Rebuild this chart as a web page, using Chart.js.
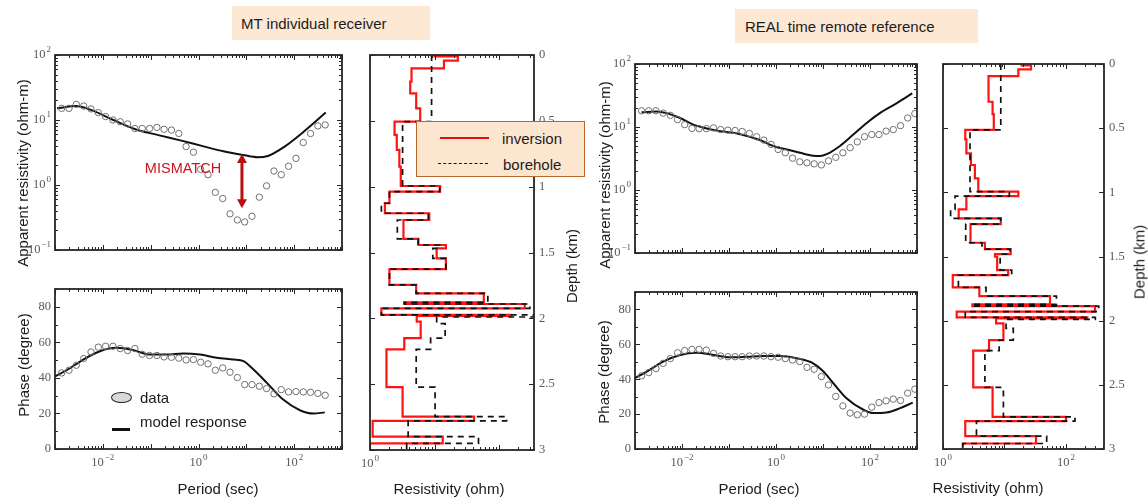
<!DOCTYPE html>
<html>
<head>
<meta charset="utf-8">
<script src="https://cdn.jsdelivr.net/npm/chart.js@4.4.1/dist/chart.umd.min.js"></script>
<style>
  body { margin: 0; background: #fff; width: 1148px; height: 497px; overflow: hidden; position: relative;
         font-family: "Liberation Sans", Arial, sans-serif; color: #1c1c1c; }
  canvas { position: absolute; left: 0; top: 0; z-index: 0; }
  .t { position: absolute; white-space: nowrap; font-size: 15px; line-height: 1; z-index: 2; }
  .c { transform: translate(-50%, -50%); }
  .r { transform: translate(-50%, -50%) rotate(-90deg); }
  .box { position: absolute; background: #fde8d4; z-index: 2; }
</style>
</head>
<body>
<script>
const W = 1148, H = 497;

// ---- period axis (sec), shared by both stations
const periods = [0.00138, 0.00196, 0.00279, 0.00397, 0.00565, 0.00804, 0.0114, 0.0163, 0.0231, 0.0329,
  0.0468, 0.0665, 0.0946, 0.135, 0.191, 0.272, 0.387, 0.551, 0.783, 1.11,
  1.58, 2.25, 3.21, 4.56, 6.49, 9.23, 13.1, 18.7, 26.5, 37.8,
  53.7, 76.4, 109, 155, 220, 313, 445, 633, 900];

// ---- MT individual receiver
const rhoDataMT = [15.1, 15.1, 17.4, 16.4, 14.8, 13.0, 11.3, 10.0, 9.4, 8.7,
  7.4, 7.4, 7.4, 7.7, 7.2, 7.0, 6.2, 3.9, 3.2, 1.74,
  1.44, 0.77, 0.62, 0.36, 0.29, 0.27, 0.33, 0.65, 0.97, 1.64,
  1.44, 1.94, 2.57, 4.5, 6.2, 8.1, 8.4];
const phaseDataMT = [42.8, 44.3, 47.1, 50.9, 54.6, 57.3, 57.8, 57.8, 56.5, 55.4,
  56.5, 53.3, 52.6, 52.6, 51.8, 51.6, 51.1, 50.1, 50.3, 48.8,
  47.9, 44.3, 45.6, 43.2, 40.2, 36.2, 36.2, 35.3, 34.0, 31.0,
  33.4, 32.1, 32.3, 32.1, 31.9, 31.3, 30.2];
const rhoModelPeriodsMT = [0.0011, 0.00275, 0.00562, 0.0166, 0.0479, 0.138, 0.398, 1.17, 3.31, 8.51, 17.4, 28.2, 63.1, 158, 457];
const rhoModelMT = [15.1, 16.4, 14.3, 10.0, 7.2, 5.9, 4.9, 4.0, 3.3, 2.9, 2.67, 2.8, 3.9, 6.6, 13.0];
const phaseModelPeriodsMT = [0.001, 0.00175, 0.00389, 0.00871, 0.0195, 0.0437, 0.0977, 0.219, 0.479, 1.07,
  2.40, 5.37, 8.71, 14.1, 26.9, 58.9, 132, 251, 437];
const phaseModelMT = [40.9, 44.3, 50.3, 55.0, 56.9, 55.6, 53.1, 53.1, 53.7, 53.1,
  51.3, 50.3, 49.4, 44.7, 37.2, 27.8, 21.8, 19.9, 20.6];

// ---- REAL time remote reference
const rhoDataRR = [18.1, 18.1, 18.1, 16.6, 15.3, 13.1, 10.9, 9.5, 9.4, 9.4,
  9.7, 9.1, 8.9, 8.8, 8.5, 7.9, 7.0, 6.2, 5.3, 4.4,
  3.9, 3.2, 2.8, 2.7, 2.6, 2.5, 2.9, 3.3, 3.9, 4.7,
  5.8, 7.0, 7.6, 7.6, 8.6, 9.1, 10.5, 13.9, 16.3];
const phaseDataRR = [41.9, 43.8, 46.1, 49.1, 51.8, 55.2, 56.4, 57.1, 57.1, 56.7,
  54.8, 53.3, 52.9, 52.9, 52.9, 53.3, 53.3, 53.3, 52.9, 52.6,
  51.8, 51.0, 50.1, 46.8, 45.7, 41.5, 36.7, 30.1, 24.7, 20.6,
  19.6, 20.0, 24.0, 26.6, 27.6, 28.6, 27.8, 32.0, 34.3];
const rhoModelPeriodsRR = [0.00138, 0.00288, 0.00468, 0.00912, 0.0174, 0.0335, 0.0646, 0.123, 0.240, 0.457,
  0.871, 1.70, 3.24, 6.17, 8.71, 12.0, 22.9, 44.2, 85.1, 162, 372, 794];
const rhoModelRR = [17.1, 17.6, 16.6, 13.9, 10.9, 9.5, 8.6, 8.1, 7.2, 6.2,
  5.0, 4.4, 3.9, 3.5, 3.45, 3.7, 5.0, 7.6, 11.6, 16.6, 23.9, 34.2];
const phaseModelPeriodsRR = [0.001, 0.00178, 0.00398, 0.00912, 0.0204, 0.0468, 0.105, 0.240, 0.537, 1.22,
  2.75, 6.17, 10.2, 16.6, 31.6, 72.4, 117, 226, 437, 813];
const phaseModelRR = [40.6, 44.4, 50.1, 53.9, 55.2, 53.9, 52.6, 52.9, 53.3, 53.3,
  52.0, 49.1, 44.4, 37.7, 29.1, 22.5, 20.6, 20.9, 23.4, 26.6];

// ---- resistivity profiles: layer boundaries (km) and layer resistivity (ohm)
const invDepthMT = [0, 0.01, 0.043, 0.101, 0.2025, 0.291, 0.405, 0.506, 0.607, 0.721, 0.848, 0.995, 1.038,
  1.126, 1.202, 1.253, 1.397, 1.443, 1.468, 1.544, 1.627, 1.746, 1.81, 1.878, 1.891, 1.924, 1.974,
  1.982, 2.025, 2.151, 2.235, 2.523, 2.746, 2.779, 2.898, 2.949, 3.0];
const invResMT = [10, 23, 14, 4.4, 4.2, 5.2, 6.0, 2.4, 2.6, 2.85, 3.0, 12.2, 2.0, 1.7, 8.3, 3.3, 5.6, 15,
  10.8, 15, 2.0, 5.2, 58, 3.4, 250, 1.5, 152, 5.3, 6.1, 3.4, 1.8, 3.2, 41, 1.1, 13.4, 1.0];
const boreDepthMT = [0, 0.506, 0.995, 1.038, 1.126, 1.202, 1.253, 1.397, 1.443, 1.468, 1.544, 1.627, 1.746,
  1.81, 1.878, 1.891, 1.924, 1.974, 1.99, 2.04, 2.151, 2.235, 2.523, 2.746, 2.779, 2.898, 2.949, 3.0];
const boreResMT = [9.0, 3.2, 12, 2.0, 1.5, 8.0, 2.65, 5.6, 12, 9.4, 15, 2.0, 5.2, 67, 3.4, 300, 1.5, 340,
  10.8, 14.6, 8.7, 5.2, 10.2, 131, 3.9, 48, 3.7];

const invDepthRR = [0, 0.01, 0.042, 0.094, 0.294, 0.39, 0.514, 0.587, 0.696, 0.787, 0.891, 0.995, 1.029,
  1.133, 1.203, 1.247, 1.393, 1.442, 1.481, 1.502, 1.606, 1.645, 1.741, 1.808, 1.873, 1.886, 1.93,
  1.975, 1.982, 2.021, 2.151, 2.234, 2.52, 2.749, 2.783, 2.9, 2.957, 3.0];
const invResRR = [19, 27, 16.8, 5.5, 6.4, 6.7, 2.3, 2.4, 2.85, 3.3, 3.75, 16.8, 2.4, 1.8, 8.7, 2.8, 4.8,
  12.6, 7.0, 7.6, 11.5, 1.44, 3.9, 55, 3.0, 297, 1.67, 222, 7.3, 9.6, 5.6, 3.1, 6.4, 100, 2.3, 32.5, 2.1];
const boreDepthRR = [0, 0.514, 0.995, 1.029, 1.133, 1.203, 1.247, 1.393, 1.442, 1.481, 1.606, 1.645, 1.741,
  1.808, 1.873, 1.886, 1.93, 1.975, 1.99, 2.06, 2.151, 2.234, 2.52, 2.749, 2.783, 2.9, 2.957, 3.0];
const boreResRR = [8.7, 2.75, 12, 1.57, 1.33, 8.7, 2.34, 4.3, 12.3, 8.5, 13.1, 1.78, 5.0, 70, 3.0, 340,
  2.3, 300, 10.6, 13.9, 8.2, 4.8, 9.6, 140, 3.5, 48.5, 2.1];

// ---- mismatch arrow (period, top rho, bottom rho)
const mismatchPeriod = 8.1;
const mismatchRho = [3.0, 0.44];

// ---- tick labels
const periodLabelTicks = [0.01, 1, 100];
const rhoLabelTicks = [0.1, 1, 10, 100];
const phaseTicks = [0, 20, 40, 60, 80];
const phaseMinorTicks = [10, 30, 50, 70, 90];
const depthTicks = [0, 0.5, 1, 1.5, 2, 2.5, 3];
const depthLabels = ['0', '0.5', '1', '1.5', '2', '2.5', '3'];

function pts(xs, ys) { return ys.map((v, i) => ({ x: xs[i], y: v })); }
function layers(bounds, res) {
  const out = [];
  res.forEach((r, i) => { out.push({ x: r, y: bounds[i] }, { x: r, y: bounds[i + 1] }); });
  return out;
}
function logTicks(lo, hi) {
  const major = [], minor = [];
  for (let e = Math.round(Math.log10(lo)) - 1; e <= Math.log10(hi); e++) {
    const d = Math.pow(10, e);
    if (d >= lo * 0.999 && d <= hi * 1.001) major.push(d);
    for (let k = 2; k < 10; k++) { const v = k * d; if (v > lo && v < hi) minor.push(v); }
  }
  return { major, minor };
}
const pow = v => ({ base: '10', exp: String(Math.round(Math.log10(v))).replace('-', '\u2212') });

function drawLabel(ctx, lab, x, y, align) {
  ctx.textBaseline = 'middle';
  if (typeof lab === 'string') {
    ctx.font = '12.5px "Liberation Serif", "DejaVu Serif", serif';
    ctx.textAlign = align;
    ctx.fillText(lab, x, y);
    return;
  }
  ctx.font = '12.5px "Liberation Serif", serif';
  const wb = ctx.measureText(lab.base).width;
  ctx.font = '9px "Liberation Serif", serif';
  const we = ctx.measureText(lab.exp).width;
  const w = wb + we + 1;
  let x0 = align === 'center' ? x - w / 2 : align === 'right' ? x - w : x;
  ctx.textAlign = 'left';
  ctx.font = '12.5px "Liberation Serif", serif';
  ctx.fillText(lab.base, x0, y);
  ctx.font = '9px "Liberation Serif", serif';
  ctx.fillText(lab.exp, x0 + wb + 1, y - 5);
}

const framePlugin = {
  id: 'frame',
  afterDatasetsDraw(chart, args, o) {
    const { ctx, chartArea: a, scales: { x, y } } = chart;
    ctx.save();
    ctx.strokeStyle = '#262626';
    ctx.lineWidth = 1;
    const tick = (sc, vals, len) => {
      ctx.beginPath();
      vals.forEach(v => {
        const p = Math.round(sc.getPixelForValue(v)) + 0.5;
        if (sc.isHorizontal()) {
          ctx.moveTo(p, a.bottom); ctx.lineTo(p, a.bottom - len);
          ctx.moveTo(p, a.top); ctx.lineTo(p, a.top + len);
        } else {
          ctx.moveTo(a.left, p); ctx.lineTo(a.left + len, p);
          ctx.moveTo(a.right, p); ctx.lineTo(a.right - len, p);
        }
      });
      ctx.stroke();
    };
    tick(x, o.xMajor, 5); tick(x, o.xMinor || [], 3);
    tick(y, o.yMajor, 5); tick(y, o.yMinor || [], 3);
    ctx.lineWidth = 1.8;
    ctx.strokeRect(a.left, a.top, a.right - a.left, a.bottom - a.top);

    ctx.fillStyle = '#5a5a5a';
    (o.xLabels || []).forEach(l => drawLabel(ctx, l.text, x.getPixelForValue(l.v), a.bottom + 14, 'center'));
    (o.yLabels || []).forEach(l => {
      const right = o.ySide === 'right';
      drawLabel(ctx, l.text, right ? a.right + 5 : a.left - 4, y.getPixelForValue(l.v), right ? 'left' : 'right');
    });

    if (o.arrow) {
      const px = x.getPixelForValue(o.arrow.x);
      const p1 = y.getPixelForValue(o.arrow.y1), p2 = y.getPixelForValue(o.arrow.y2);
      ctx.strokeStyle = ctx.fillStyle = '#b80f0f';
      ctx.lineWidth = 3;
      ctx.beginPath(); ctx.moveTo(px, p1 + 7); ctx.lineTo(px, p2 - 7); ctx.stroke();
      ctx.beginPath(); ctx.moveTo(px, p1); ctx.lineTo(px - 5, p1 + 9); ctx.lineTo(px + 5, p1 + 9); ctx.fill();
      ctx.beginPath(); ctx.moveTo(px, p2); ctx.lineTo(px - 5, p2 - 9); ctx.lineTo(px + 5, p2 - 9); ctx.fill();
    }
    ctx.restore();
  }
};

function makeChart(area, xs, ys, datasets, frame) {
  const cv = document.createElement('canvas');
  cv.width = W; cv.height = H;
  document.body.appendChild(cv);
  return new Chart(cv, {
    type: 'scatter',
    data: { datasets },
    options: {
      responsive: false,
      animation: false,
      events: [],
      layout: { padding: { left: area[0], top: area[1], right: W - area[2], bottom: H - area[3] } },
      scales: { x: Object.assign({ display: false }, xs), y: Object.assign({ display: false }, ys) },
      plugins: { legend: { display: false }, tooltip: { enabled: false }, frame }
    },
    plugins: [framePlugin]
  });
}

const dataStyle = { showLine: false, pointRadius: 3.2, pointBorderWidth: 1, pointBorderColor: '#707070', pointBackgroundColor: 'rgba(0,0,0,0)' };
const modelStyle = { showLine: true, pointRadius: 0, borderColor: '#111', borderWidth: 2, cubicInterpolationMode: 'monotone' };
const invStyle = { showLine: true, pointRadius: 0, borderColor: '#ff1414', borderWidth: 2.2, order: 2 };
const boreStyle = { showLine: true, pointRadius: 0, borderColor: '#111', borderWidth: 1.7, borderDash: [6, 5], order: 1 };

const pT = logTicks(0.001, 1000);
const rT = logTicks(0.1, 100);
const periodAxis = { type: 'logarithmic', min: 0.001, max: 1000 };
const rhoAxis = { type: 'logarithmic', min: 0.1, max: 100 };
const phaseAxis = { type: 'linear', min: 0, max: 90 };
const rhoFrame = { xMajor: pT.major, xMinor: pT.minor, yMajor: rT.major, yMinor: rT.minor,
  yLabels: rhoLabelTicks.map(v => ({ v, text: pow(v) })) };
const phaseFrame = { xMajor: pT.major, xMinor: pT.minor, yMajor: phaseTicks, yMinor: phaseMinorTicks,
  xLabels: periodLabelTicks.map(v => ({ v, text: pow(v) })),
  yLabels: phaseTicks.map(v => ({ v, text: String(v) })) };

// MT individual receiver
makeChart([55, 55, 342, 250], periodAxis, rhoAxis, [
  Object.assign({ data: pts(periods, rhoDataMT) }, dataStyle),
  Object.assign({ data: pts(rhoModelPeriodsMT, rhoModelMT) }, modelStyle)
], Object.assign({ arrow: { x: mismatchPeriod, y1: mismatchRho[0], y2: mismatchRho[1] } }, rhoFrame));

makeChart([55, 289, 342, 449], periodAxis, phaseAxis, [
  Object.assign({ data: pts(periods, phaseDataMT) }, dataStyle),
  Object.assign({ data: pts(phaseModelPeriodsMT, phaseModelMT) }, modelStyle)
], phaseFrame);

const resMT = logTicks(1, 348);
makeChart([370, 55, 534, 450], { type: 'logarithmic', min: 1, max: 348 }, { type: 'linear', min: 0, max: 3, reverse: true }, [
  Object.assign({ data: layers(invDepthMT, invResMT) }, invStyle),
  Object.assign({ data: layers(boreDepthMT, boreResMT) }, boreStyle)
], { xMajor: resMT.major, xMinor: resMT.minor, yMajor: depthTicks, ySide: 'right',
  xLabels: [{ v: 1, text: pow(1) }],
  yLabels: depthTicks.map((v, i) => ({ v, text: depthLabels[i] })) });

// REAL time remote reference
makeChart([635, 64, 917, 253], periodAxis, rhoAxis, [
  Object.assign({ data: pts(periods, rhoDataRR) }, dataStyle),
  Object.assign({ data: pts(rhoModelPeriodsRR, rhoModelRR) }, modelStyle)
], rhoFrame);

makeChart([635, 292, 917, 449], periodAxis, phaseAxis, [
  Object.assign({ data: pts(periods, phaseDataRR) }, dataStyle),
  Object.assign({ data: pts(phaseModelPeriodsRR, phaseModelRR) }, modelStyle)
], phaseFrame);

const resRR = logTicks(1, 415);
makeChart([943, 64, 1104, 449], { type: 'logarithmic', min: 1, max: 415 }, { type: 'linear', min: 0, max: 3, reverse: true }, [
  Object.assign({ data: layers(invDepthRR, invResRR) }, invStyle),
  Object.assign({ data: layers(boreDepthRR, boreResRR) }, boreStyle)
], { xMajor: resRR.major, xMinor: resRR.minor, yMajor: depthTicks, ySide: 'right',
  xLabels: [{ v: 1, text: pow(1) }, { v: 100, text: pow(100) }],
  yLabels: depthTicks.map((v, i) => ({ v, text: depthLabels[i] })) });
</script>

<!-- titles -->
<div class="box" style="left:232px;top:6px;width:198px;height:34px;"></div>
<div class="t" style="left:241px;top:16px;">MT individual receiver</div>
<div class="box" style="left:735px;top:9px;width:243px;height:34px;"></div>
<div class="t" style="left:745px;top:19px;">REAL time remote reference</div>

<!-- axis titles -->
<div class="t r" style="left:22px;top:173px;">Apparent resistivity (ohm-m)</div>
<div class="t r" style="left:23px;top:365px;">Phase (degree)</div>
<div class="t c" style="left:218px;top:488px;">Period (sec)</div>
<div class="t c" style="left:449px;top:488px;">Resistivity (ohm)</div>
<div class="t r" style="left:571px;top:266px;">Depth (km)</div>

<div class="t r" style="left:604px;top:175px;">Apparent resistivity (ohm-m)</div>
<div class="t r" style="left:603px;top:372px;">Phase (degree)</div>
<div class="t c" style="left:759px;top:488px;">Period (sec)</div>
<div class="t c" style="left:988px;top:487px;">Resistivity (ohm)</div>
<div class="t r" style="left:1139px;top:262px;">Depth (km)</div>

<!-- mismatch -->
<div class="t c" style="left:183px;top:168px;color:#c8161e;font-size:14.5px;">MISMATCH</div>

<!-- phase legend -->
<div style="position:absolute;left:111px;top:392px;width:19px;height:9px;background:#d9d9d9;border:1.3px solid #222;border-radius:50%;z-index:2;"></div>
<div class="t" style="left:140px;top:390px;">data</div>
<div style="position:absolute;left:112px;top:428px;width:18px;height:2.5px;background:#111;z-index:2;"></div>
<div class="t" style="left:140px;top:414px;">model response</div>

<!-- profile legend -->
<div class="box" style="left:416px;top:121px;width:167px;height:54px;border:1.5px solid #b8662a;background:#fde6d0;"></div>
<div style="position:absolute;left:440px;top:137px;width:49px;height:2px;background:#e31010;z-index:3;"></div>
<div class="t" style="left:502px;top:131px;z-index:3;">inversion</div>
<div style="position:absolute;left:438px;top:163px;width:50px;height:0;border-top:1.5px dashed #111;z-index:3;"></div>
<div class="t" style="left:503px;top:157px;z-index:3;">borehole</div>
</body>
</html>
